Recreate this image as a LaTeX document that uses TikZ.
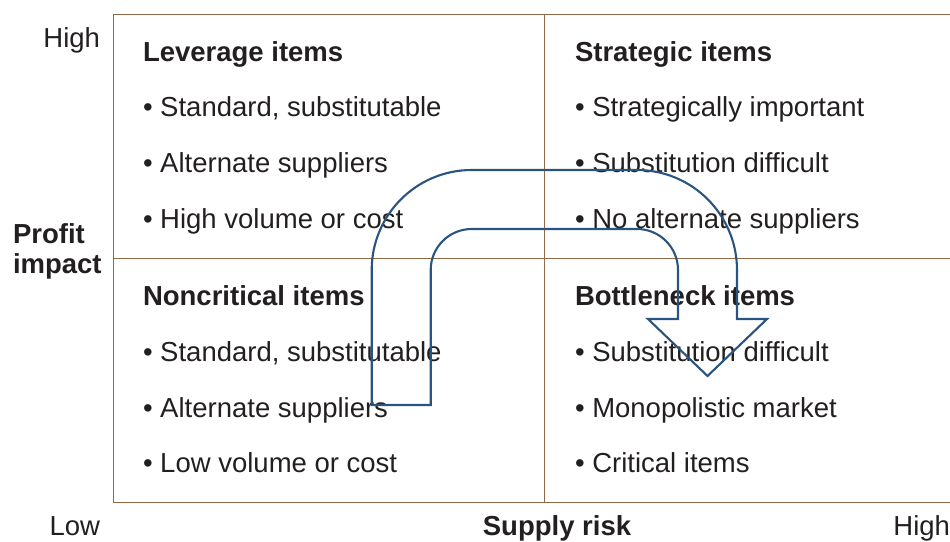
\documentclass[tikz,border=0pt]{standalone}
\usepackage{fontspec}
\setmainfont{Liberation Sans}
\definecolor{txt}{RGB}{35,31,32}
\definecolor{gridc}{RGB}{145,105,70}
\definecolor{arrowc}{RGB}{42,84,128}
\begin{document}
\begin{tikzpicture}[x=1pt,y=-1pt,
  every node/.style={inner sep=0pt,outer sep=0pt,text=txt,font=\fontsize{27.5}{30}\selectfont},
  head/.style={anchor=base west,font=\fontsize{27.5}{30}\selectfont\bfseries},
  item/.style={anchor=base west},
  axis/.style={anchor=base},
  gridline/.style={draw=gridc,line width=0.8pt},
  arrowline/.style={draw=arrowc,line width=2.1pt,line join=miter}]
\useasboundingbox (0,0) rectangle (950,541);
% grid
\draw[gridline] (950,14) -- (113,14) -- (113,502) -- (950,502);
\draw[gridline] (544,14) -- (544,502);
\draw[gridline] (113,258) -- (950,258);
% axis labels
\node[anchor=base east] (hi) at (100,47) {High};
\node[anchor=base east] (lo) at (100,535) {Low};
\node[anchor=base east] (hx) at (950,535) {High};
\node[axis,font=\fontsize{27.5}{30}\selectfont\bfseries] (sr) at (557,535) {Supply risk};
\node[anchor=base west,font=\fontsize{27.5}{30}\selectfont\bfseries] (p1) at (13,243) {Profit};
\node[anchor=base west,font=\fontsize{27.5}{30}\selectfont\bfseries] (p2) at (13,273) {impact};
% quadrant texts
\node[head] (lh) at (143,61) {Leverage items};
\node[item] (l1) at (143,116) {• Standard, substitutable};
\node[item] (l2) at (143,172) {• Alternate suppliers};
\node[item] (l3) at (143,228) {• High volume or cost};
\node[head] (sh) at (575,61) {Strategic items};
\node[item] (s1) at (575,116) {• Strategically important};
\node[item] (s2) at (575,172) {• Substitution difficult};
\node[item] (s3) at (575,228) {• No alternate suppliers};
\node[head] (nh) at (143,305) {Noncritical items};
\node[item] (n1) at (143,361) {• Standard, substitutable};
\node[item] (n2) at (143,417) {• Alternate suppliers};
\node[item] (n3) at (143,472) {• Low volume or cost};
\node[head] (bh) at (575,305) {Bottleneck items};
\node[item] (b1) at (575,361) {• Substitution difficult};
\node[item] (b2) at (575,417) {• Monopolistic market};
\node[item] (b3) at (575,472) {• Critical items};
% U-turn arrow
\draw[arrowline] (371.7,405) -- (371.7,270)
  arc[start angle=180,end angle=270,radius=100] -- (637,170)
  arc[start angle=270,end angle=360,radius=100] -- (737,319)
  -- (767,319) -- (707.5,376) -- (648,319) -- (678,319) -- (678,270)
  arc[start angle=360,end angle=270,radius=41] -- (471.7,229)
  arc[start angle=270,end angle=180,radius=41] -- (430.7,405) -- cycle;
\end{tikzpicture}
\end{document}
